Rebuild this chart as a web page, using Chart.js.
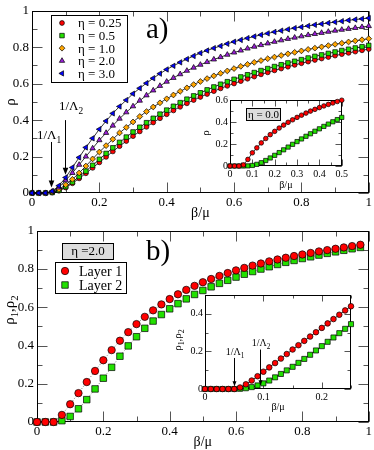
<!DOCTYPE html>
<html>
<head>
<meta charset="utf-8">
<script src="https://cdn.jsdelivr.net/npm/chart.js@4.4.0/dist/chart.umd.min.js"></script>
<style>
html, body { margin: 0; padding: 0; background: #fff; }
#wrap { position: relative; width: 374px; height: 450px; overflow: hidden; }
canvas { position: absolute; }
</style>
</head>
<body>
<div id="wrap">
  <canvas id="mainA" width="374" height="220" style="left:0;top:0"></canvas>
  <canvas id="mainB" width="374" height="230" style="left:0;top:220px"></canvas>
  <canvas id="insetA" width="152" height="100" style="left:198px;top:92px"></canvas>
  <canvas id="insetB" width="187" height="127" style="left:170px;top:287px"></canvas>
</div>
<script>
const SERIF = "'Liberation Serif', 'Times New Roman', serif";

// --- panel a) : rho vs beta/mu for several eta
const xA = [0,0.02,0.04,0.06,0.08,0.1,0.12,0.14,0.16,0.18,0.2,0.22,0.24,0.26,0.28,0.3,0.32,0.34,0.36,0.38,0.4,0.42,0.44,0.46,0.48,0.5,0.52,0.54,0.56,0.58,0.6,0.62,0.64,0.66,0.68,0.7,0.72,0.74,0.76,0.78,0.8,0.82,0.84,0.86,0.88,0.9,0.92,0.94,0.96,0.98,1];
const rhoEta025 = [0,0,0,0.002,0.012,0.03,0.053,0.08,0.108,0.138,0.168,0.198,0.228,0.257,0.285,0.312,0.338,0.363,0.387,0.41,0.432,0.453,0.473,0.492,0.51,0.527,0.543,0.559,0.574,0.588,0.601,0.614,0.627,0.639,0.651,0.662,0.673,0.683,0.693,0.703,0.712,0.721,0.73,0.738,0.746,0.754,0.762,0.769,0.776,0.783,0.79];
const rhoEta05 = [0,0,0,0.003,0.015,0.035,0.06,0.09,0.12,0.152,0.185,0.217,0.248,0.278,0.307,0.335,0.361,0.386,0.41,0.433,0.455,0.476,0.496,0.515,0.533,0.55,0.566,0.582,0.597,0.611,0.624,0.637,0.649,0.661,0.672,0.683,0.694,0.704,0.714,0.723,0.732,0.741,0.75,0.758,0.766,0.774,0.782,0.789,0.796,0.803,0.81];
const rhoEta10 = [0,0,0,0.005,0.02,0.045,0.075,0.11,0.148,0.187,0.225,0.26,0.295,0.33,0.36,0.39,0.42,0.447,0.472,0.495,0.517,0.538,0.558,0.577,0.595,0.612,0.628,0.643,0.657,0.67,0.683,0.695,0.706,0.717,0.727,0.737,0.746,0.755,0.764,0.772,0.78,0.788,0.795,0.802,0.809,0.816,0.822,0.829,0.835,0.841,0.847];
const rhoEta20 = [0,0,0,0.008,0.03,0.07,0.11,0.155,0.2,0.245,0.29,0.33,0.37,0.408,0.443,0.476,0.507,0.536,0.563,0.588,0.611,0.632,0.652,0.671,0.688,0.704,0.719,0.733,0.746,0.759,0.771,0.782,0.793,0.803,0.812,0.821,0.83,0.838,0.846,0.853,0.86,0.867,0.873,0.879,0.885,0.891,0.896,0.901,0.906,0.911,0.916];
const rhoEta30 = [0,0,0,0.01,0.04,0.085,0.14,0.195,0.25,0.3,0.35,0.395,0.437,0.475,0.51,0.545,0.575,0.603,0.63,0.655,0.678,0.698,0.717,0.735,0.752,0.768,0.782,0.795,0.807,0.819,0.83,0.84,0.85,0.859,0.868,0.876,0.884,0.891,0.898,0.905,0.911,0.917,0.923,0.928,0.933,0.938,0.943,0.948,0.952,0.956,0.96];

// inset of a) : eta = 0.0
const xIA = [0,0.02,0.04,0.06,0.08,0.1,0.12,0.14,0.16,0.18,0.2,0.22,0.24,0.26,0.28,0.3,0.32,0.34,0.36,0.38,0.4,0.42,0.44,0.46,0.48,0.5];
const rhoIA1 = [0,0,0,0.01,0.06,0.12,0.165,0.21,0.25,0.285,0.315,0.345,0.372,0.397,0.42,0.442,0.462,0.481,0.499,0.515,0.531,0.546,0.56,0.573,0.586,0.598];
const rhoIA2 = [0,0,0,0,0.001,0.005,0.015,0.03,0.05,0.073,0.097,0.122,0.147,0.172,0.197,0.222,0.246,0.27,0.293,0.316,0.338,0.36,0.381,0.402,0.422,0.442];

// --- panel b) : eta = 2.0, two layers
const xB = [0,0.025,0.05,0.075,0.1,0.125,0.15,0.175,0.2,0.225,0.25,0.275,0.3,0.325,0.35,0.375,0.4,0.425,0.45,0.475,0.5,0.525,0.55,0.575,0.6,0.625,0.65,0.675,0.7,0.725,0.75,0.775,0.8,0.825,0.85,0.875,0.9,0.925,0.95,0.975];
const rhoLayer1 = [0,0,0,0.037,0.093,0.151,0.209,0.267,0.323,0.376,0.425,0.47,0.512,0.55,0.584,0.615,0.643,0.668,0.691,0.712,0.731,0.748,0.764,0.779,0.793,0.806,0.818,0.829,0.84,0.85,0.859,0.868,0.876,0.884,0.892,0.899,0.906,0.913,0.92,0.927];
const rhoLayer2 = [0,0,0,0.007,0.029,0.069,0.117,0.173,0.229,0.286,0.344,0.398,0.446,0.49,0.528,0.562,0.592,0.619,0.644,0.667,0.688,0.707,0.725,0.741,0.758,0.773,0.787,0.8,0.812,0.824,0.835,0.845,0.855,0.864,0.873,0.882,0.89,0.898,0.906,0.913];

// inset of b)
const xIB = [0,0.01,0.02,0.03,0.04,0.05,0.06,0.07,0.08,0.09,0.1,0.11,0.12,0.13,0.14,0.15,0.16,0.17,0.18,0.19,0.2,0.21,0.22,0.23,0.24,0.25];
const rhoIB1 = [0,0,0,0,0,0,0.008,0.025,0.045,0.068,0.092,0.115,0.138,0.162,0.186,0.21,0.233,0.256,0.279,0.302,0.325,0.349,0.372,0.395,0.418,0.44];
const rhoIB2 = [0,0,0,0,0,0,0.001,0.004,0.01,0.019,0.03,0.045,0.062,0.08,0.099,0.118,0.139,0.16,0.182,0.205,0.228,0.251,0.274,0.297,0.32,0.345];

// thresholds 1/Lambda_1, 1/Lambda_2
const thresholds = [0.055, 0.097];
const thresholdsInset = [0.05, 0.094];

function series(label, xs, ys, color, style, r, rot, line, order) {
  return {
    label: label,
    data: xs.map((x, i) => ({ x: x, y: ys[i] })),
    showLine: true,
    borderColor: line.color,
    borderWidth: line.width,
    borderDash: line.dash || [],
    pointStyle: style,
    pointRadius: r,
    pointRotation: rot,
    pointBackgroundColor: color,
    pointBorderColor: '#000',
    pointBorderWidth: 0.7,
    clip: false,
    order: order
  };
}

// multiples of step between lo and hi
function stepValues(lo, hi, step) {
  const out = [];
  for (let k = 0; lo + k * step <= hi + 1e-9; k++) out.push(+(lo + k * step).toFixed(6));
  return out;
}

// box around the plot with inward ticks on all four sides
function framePlugin(cfg) {
  return {
    id: 'frame',
    beforeDatasetsDraw(chart) {
      const { ctx, chartArea: a, scales: { x, y } } = chart;
      ctx.save();
      if (cfg.white) {
        ctx.fillStyle = '#fff';
        ctx.fillRect(a.left, a.top, a.width, a.height);
      }
      ctx.lineWidth = 1;
      const L = Math.round(a.left) + 0.5, R = Math.round(a.right) - 0.5;
      const T = Math.round(a.top) + 0.5, B = Math.round(a.bottom) - 0.5;
      const marks = (scale, step, len, vert) => {
        stepValues(scale.min, scale.max, step).forEach(v => {
          const p = Math.round(scale.getPixelForValue(v)) + 0.5;
          ctx.beginPath();
          if (vert) {
            ctx.moveTo(p, B); ctx.lineTo(p, B - len);
            ctx.moveTo(p, T); ctx.lineTo(p, T + len);
          } else {
            ctx.moveTo(L, p); ctx.lineTo(L + len, p);
            ctx.moveTo(R, p); ctx.lineTo(R - len, p);
          }
          ctx.stroke();
        });
      };
      ctx.strokeStyle = '#555';
      marks(x, cfg.xMinor, cfg.minor, true);
      marks(y, cfg.yMinor, cfg.minor, false);
      marks(x, cfg.xMajor, cfg.major, true);
      marks(y, cfg.yMajor, cfg.major, false);
      ctx.strokeStyle = '#000';
      ctx.strokeRect(L, T, R - L, B - T);
      ctx.restore();
    }
  };
}

function drawRich(ctx, parts, x, y, size, align) {
  const fontFor = s => (s ? size * 0.72 : size) + 'px ' + SERIF;
  let w = 0;
  parts.forEach(([t, s]) => { ctx.font = fontFor(s); w += ctx.measureText(t).width; });
  let cx = align === 'center' ? x - w / 2 : (align === 'right' ? x - w : x);
  ctx.textAlign = 'left';
  ctx.textBaseline = 'alphabetic';
  parts.forEach(([t, s]) => {
    ctx.font = fontFor(s);
    ctx.fillText(t, cx, s ? y + size * 0.28 : y);
    cx += ctx.measureText(t).width;
  });
}

function drawArrow(chart, xv, y0v, y1v, head) {
  const { ctx, scales: { x, y } } = chart;
  const px = Math.round(x.getPixelForValue(xv)) + 0.5;
  const p0 = y.getPixelForValue(y0v), p1 = y.getPixelForValue(y1v);
  ctx.beginPath(); ctx.moveTo(px, p0); ctx.lineTo(px, p1 - head + 1); ctx.stroke();
  ctx.beginPath();
  ctx.moveTo(px, p1);
  ctx.lineTo(px - head * 0.4, p1 - head);
  ctx.lineTo(px + head * 0.4, p1 - head);
  ctx.closePath(); ctx.fill();
}

function drawLegend(chart, box, order, size) {
  const { ctx } = chart;
  ctx.save();
  ctx.fillStyle = '#fff';
  ctx.fillRect(box.x, box.y, box.w, box.h);
  ctx.strokeStyle = '#000';
  ctx.lineWidth = 1;
  ctx.strokeRect(box.x + 0.5, box.y + 0.5, box.w, box.h);
  order.forEach((di, row) => {
    const ds = chart.data.datasets[di];
    const yy = box.y + box.first + row * box.rowH;
    ctx.fillStyle = ds.pointBackgroundColor;
    ctx.strokeStyle = '#000';
    ctx.lineWidth = ds.pointBorderWidth;
    Chart.helpers.drawPoint(ctx, {
      pointStyle: ds.pointStyle, rotation: ds.pointRotation, radius: ds.pointRadius, borderWidth: ds.pointBorderWidth
    }, box.markX, yy);
    ctx.fillStyle = '#000';
    ctx.font = size + 'px ' + SERIF;
    ctx.textAlign = 'left';
    ctx.textBaseline = 'middle';
    ctx.fillText(ds.label, box.textX, yy + 1);
  });
  ctx.restore();
}

function greyTag(ctx, text, x, y, w, h, size) {
  ctx.save();
  ctx.fillStyle = '#dcdcdc';
  ctx.fillRect(x, y, w, h);
  ctx.strokeStyle = '#000';
  ctx.lineWidth = 1;
  ctx.strokeRect(x + 0.5, y + 0.5, w, h);
  ctx.fillStyle = '#000';
  ctx.font = size + 'px ' + SERIF;
  ctx.textAlign = 'center';
  ctx.textBaseline = 'middle';
  ctx.fillText(text, x + w / 2 + 0.5, y + h / 2 + 1);
  ctx.restore();
}

function axes(o) {
  const tickFont = { family: SERIF, size: o.tick };
  const fmt = v => String(+v.toFixed(3));
  const x = {
    type: 'linear', min: o.xMin, max: o.xMax,
    afterBuildTicks: s => { s.ticks = stepValues(o.xMin, o.xMax, o.xStep).map(v => ({ value: v })); },
    ticks: { font: tickFont, color: '#000', padding: o.xPad, autoSkip: false, maxRotation: 0, callback: fmt },
    grid: { display: false, drawTicks: false },
    border: { display: false },
    title: { display: true, text: 'β/μ', color: '#000', font: { family: SERIF, size: o.title, lineHeight: 1 }, padding: { top: 0, bottom: o.xTitlePad } },
    afterFit: s => { s.height = o.xH; }
  };
  const y = {
    type: 'linear', min: o.yMin, max: o.yMax,
    afterBuildTicks: s => { s.ticks = stepValues(o.yMin, o.yMax, o.yStep).map(v => ({ value: v })); },
    ticks: { font: tickFont, color: '#000', padding: o.yPad, autoSkip: false, callback: fmt },
    grid: { display: false, drawTicks: false },
    border: { display: false },
    title: { display: !!o.yTitle, text: o.yTitle || '', color: '#000', font: { family: SERIF, size: o.title + 1, lineHeight: 1 }, padding: { top: o.yTitlePad, bottom: 0 } },
    afterFit: s => { s.width = o.yW; }
  };
  return { x, y };
}

const base = {
  responsive: false,
  animation: false,
  events: [],
  plugins: { legend: { display: false }, tooltip: { enabled: false } }
};

const blackLine = { color: '#000', width: 0.8 };

// ---------- panel a)
new Chart(document.getElementById('mainA'), {
  type: 'scatter',
  data: {
    datasets: [
      series('η = 0.25', xA, rhoEta025, '#ff0000', 'circle', 2.4, 0, blackLine, 5),
      series('η = 0.5', xA, rhoEta05, '#22e000', 'rect', 3.2, 0, blackLine, 4),
      series('η = 1.0', xA, rhoEta10, '#ffa500', 'rectRot', 2.9, 0, blackLine, 3),
      series('η = 2.0', xA, rhoEta20, '#9a1ed8', 'triangle', 3.1, 0, blackLine, 2),
      series('η = 3.0', xA, rhoEta30, '#0000ff', 'triangle', 3.1, 270, blackLine, 1)
    ]
  },
  options: Object.assign({}, base, {
    layout: { padding: { top: 6, right: 4, left: 0, bottom: 0 } },
    scales: axes({ xMin: 0, xMax: 1, xStep: 0.2, yMin: 0, yMax: 1, yStep: 0.2, tick: 13, title: 14,
      xPad: 2, yPad: 3, xH: 27, yW: 32, xTitlePad: 0, yTitle: 'ρ', yTitlePad: 4 })
  }),
  plugins: [
    framePlugin({ xMajor: 0.2, xMinor: 0.1, yMajor: 0.2, yMinor: 0.1, major: 10, minor: 5 }),
    {
      id: 'notesA',
      afterDatasetsDraw(chart) {
        const { ctx } = chart;
        ctx.save();
        ctx.strokeStyle = '#000'; ctx.fillStyle = '#000'; ctx.lineWidth = 1;
        drawArrow(chart, thresholds[0], 0.28, 0.03, 7);
        drawArrow(chart, thresholds[1], 0.4, 0.1, 7);
        drawRich(ctx, [['1/Λ', 0], ['1', 1]], 49, 139, 13, 'center');
        drawRich(ctx, [['1/Λ', 0], ['2', 1]], 71, 110, 13, 'center');
        ctx.font = '29px ' + SERIF;
        ctx.textAlign = 'left'; ctx.textBaseline = 'alphabetic';
        ctx.fillText('a)', 146, 38);
        ctx.restore();
        drawLegend(chart, { x: 51, y: 15, w: 76, h: 67, first: 8, rowH: 12.6, markX: 62, textX: 78 }, [0, 1, 2, 3, 4], 13);
      }
    }
  ]
});

// ---------- inset of a)
new Chart(document.getElementById('insetA'), {
  type: 'scatter',
  data: {
    datasets: [
      series('η = 0.0 (1)', xIA, rhoIA1, '#ff0000', 'circle', 2.3, 0, blackLine, 1),
      series('η = 0.0 (2)', xIA, rhoIA2, '#22e000', 'rect', 3, 0, blackLine, 2)
    ]
  },
  options: Object.assign({}, base, {
    layout: { padding: { top: 6, right: 7, left: 0, bottom: 0 } },
    scales: axes({ xMin: 0, xMax: 0.5, xStep: 0.1, yMin: 0, yMax: 0.6, yStep: 0.2, tick: 10, title: 10,
      xPad: 2, yPad: 2, xH: 26, yW: 32, xTitlePad: 2, yTitle: 'ρ', yTitlePad: 3 })
  }),
  plugins: [
    framePlugin({ white: true, xMajor: 0.1, xMinor: 0.05, yMajor: 0.2, yMinor: 0.1, major: 6, minor: 3 }),
    {
      id: 'notesIA',
      afterDatasetsDraw(chart) {
        greyTag(chart.ctx, 'η = 0.0', 48, 16, 34, 12, 11);
      }
    }
  ]
});

// ---------- panel b)
const dotted = { color: '#777', width: 1, dash: [1, 2] };
new Chart(document.getElementById('mainB'), {
  type: 'scatter',
  data: {
    datasets: [
      series('Layer 1', xB, rhoLayer1, '#ff0000', 'circle', 3.7, 0, dotted, 1),
      series('Layer 2', xB, rhoLayer2, '#22e000', 'rect', 4.6, 0, dotted, 2)
    ]
  },
  options: Object.assign({}, base, {
    layout: { padding: { top: 6, right: 4, left: 0, bottom: 0 } },
    scales: axes({ xMin: 0, xMax: 1, xStep: 0.2, yMin: 0, yMax: 1, yStep: 0.2, tick: 13, title: 14,
      xPad: 2, yPad: 3, xH: 28, yW: 37, xTitlePad: 1 })
  }),
  plugins: [
    framePlugin({ xMajor: 0.2, xMinor: 0.1, yMajor: 0.2, yMinor: 0.1, major: 10, minor: 5 }),
    {
      id: 'notesB',
      afterDatasetsDraw(chart) {
        const { ctx } = chart;
        ctx.save();
        ctx.fillStyle = '#000';
        ctx.translate(14, 90);
        ctx.rotate(-Math.PI / 2);
        drawRich(ctx, [['ρ', 0], ['1', 1], [',ρ', 0], ['2', 1]], 0, 0, 15, 'center');
        ctx.restore();
        ctx.save();
        ctx.font = '29px ' + SERIF;
        ctx.fillStyle = '#000';
        ctx.textAlign = 'left'; ctx.textBaseline = 'alphabetic';
        ctx.fillText('b)', 146, 40);
        ctx.restore();
        greyTag(ctx, 'η =2.0', 62, 23, 51, 16, 13);
        drawLegend(chart, { x: 55, y: 42, w: 71, h: 31, first: 9, rowH: 14, markX: 65, textX: 79 }, [0, 1], 14);
      }
    }
  ]
});

// ---------- inset of b)
new Chart(document.getElementById('insetB'), {
  type: 'scatter',
  data: {
    datasets: [
      series('Layer 1', xIB, rhoIB1, '#ff0000', 'circle', 2.8, 0, blackLine, 1),
      series('Layer 2', xIB, rhoIB2, '#22e000', 'rect', 3.6, 0, blackLine, 2)
    ]
  },
  options: Object.assign({}, base, {
    layout: { padding: { top: 6, right: 6, left: 0, bottom: 0 } },
    scales: axes({ xMin: 0, xMax: 0.25, xStep: 0.1, yMin: 0, yMax: 0.5, yStep: 0.2, tick: 10, title: 10,
      xPad: 2, yPad: 2, xH: 25, yW: 35, xTitlePad: 2 })
  }),
  plugins: [
    framePlugin({ white: true, xMajor: 0.1, xMinor: 0.05, yMajor: 0.2, yMinor: 0.1, major: 6, minor: 3 }),
    {
      id: 'notesIB',
      afterDatasetsDraw(chart) {
        const { ctx } = chart;
        ctx.save();
        ctx.strokeStyle = '#000'; ctx.fillStyle = '#000'; ctx.lineWidth = 1;
        drawArrow(chart, thresholdsInset[0], 0.165, 0.015, 5);
        drawArrow(chart, thresholdsInset[1], 0.21, 0.02, 5);
        drawRich(ctx, [['1/Λ', 0], ['1', 1]], 65, 68, 10, 'center');
        drawRich(ctx, [['1/Λ', 0], ['2', 1]], 91, 59, 10, 'center');
        ctx.translate(11, 53);
        ctx.rotate(-Math.PI / 2);
        drawRich(ctx, [['ρ', 0], ['1', 1], [',ρ', 0], ['2', 1]], 0, 0, 11, 'center');
        ctx.restore();
      }
    }
  ]
});
</script>
</body>
</html>
